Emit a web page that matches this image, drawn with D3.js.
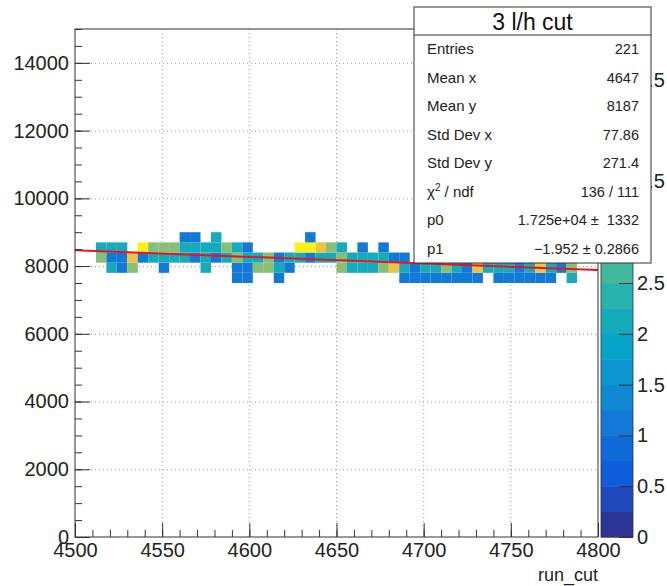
<!DOCTYPE html>
<html>
<head>
<meta charset="utf-8">
<script src="https://cdn.jsdelivr.net/npm/d3@7"></script>
<style>
body { margin: 0; background: #fff; }
text { font-family: "Liberation Sans", Arial, sans-serif; }
</style>
</head>
<body>
<div class="container"></div>
<script>
// histogram binning (TH2: 50 x 50 bins)
var xMin = 4500, xMax = 4800, nBinsX = 50;
var yMin = 0, yMax = 15000, nBinsY = 50;
var zMin = 0, zMax = 5, nContours = 20;

// bin contents per y row, one value per x bin (0..49)
var row7500 = [0,0,0,0,0,0,0,0,0,0, 0,0,0,0,0,1,1,0,0,1, 0,0,0,0,0,0,0,0,0,0, 0,1,1,1,1,1,1,1,1,0, 1,1,1,1,1,1,0,2,0,0];
var row7800 = [0,0,0,2,1,3,0,0,1,0, 0,0,2,0,0,1,1,3,3,2, 1,0,0,0,0,3,2,2,2,3, 4,2,1,2,2,3,2,1,4,2, 2,2,1,2,4,2,1,3,0,0];
var row8100 = [0,0,3,1,1,4,1,2,2,2, 2,1,2,1,2,3,2,2,3,1, 2,2,1,2,2,3,2,2,2,2, 1,1,0,2,3,4,2,2,1,2, 1,2,2,1,2,1,2,1,0,0];
var row8400 = [0,0,2,2,2,0,5,3,3,3, 2,2,2,2,3,2,1,0,0,0, 0,5,5,4,3,2,0,1,0,1, 0,0,0,0,2,0,1,0,0,1, 0,0,1,0,0,0,0,0,0,0];
var row8700 = [0,0,0,0,0,0,0,0,0,0, 1,1,0,2,0,0,0,0,0,0, 0,0,1,0,0,0,0,0,0,0, 0,0,0,0,0,0,0,0,0,0, 0,0,0,0,0,0,0,0,0,0];
var rowStarts = [7500, 7800, 8100, 8400, 8700];
var rowCounts = [row7500, row7800, row8100, row8400, row8700];

// pol1 fit
var fitP0 = 1.725e4, fitP1 = -1.952;

// axis ticks
var xMajor = [4500, 4550, 4600, 4650, 4700, 4750, 4800];
var yMajor = [0, 2000, 4000, 6000, 8000, 10000, 12000, 14000];
var zMajor = [0, 0.5, 1, 1.5, 2, 2.5, 3, 3.5, 4, 4.5, 5];

// stats box
var statTitle = "3 l/h cut";
var statLabels = ["Entries", "Mean x", "Mean y", "Std Dev x", "Std Dev y", "chi2", "p0", "p1"];
var statValues = ["221", "4647", "8187", "77.86", "271.4", "136 / 111", "1.725e+04 \u00b1  1332", "\u22121.952 \u00b1 0.2866"];

// kBird palette stops
var birdStops = [0, 0.125, 0.25, 0.375, 0.5, 0.625, 0.75, 0.875, 1];
var birdR = [0.2082, 0.0592, 0.0780, 0.0232, 0.1802, 0.5301, 0.8186, 0.9956, 0.9764];
var birdG = [0.1664, 0.3599, 0.5041, 0.6419, 0.7178, 0.7492, 0.7328, 0.7862, 0.9832];
var birdB = [0.5293, 0.8684, 0.8385, 0.7914, 0.6425, 0.4662, 0.3499, 0.1968, 0.0539];

var W = 667, H = 586;
var fx0 = 75, fx1 = 598, fy0 = 29, fy1 = 537; // frame
var px0 = 601, px1 = 633; // palette

var x = d3.scaleLinear().domain([xMin, xMax]).range([fx0, fx1]);
var y = d3.scaleLinear().domain([yMin, yMax]).range([fy1, fy0]);
var z = d3.scaleLinear().domain([zMin, zMax]).range([fy1, fy0]);

var birdScale = d3.scaleLinear().domain(birdStops)
	.range(birdStops.map(function(s, i) { return d3.rgb(birdR[i]*255, birdG[i]*255, birdB[i]*255); }));

function levelColor(v) {
	// discrete contour level, like COLZ
	var k = Math.floor((v - zMin) / (zMax - zMin) * nContours);
	k = Math.max(0, Math.min(nContours - 1, k));
	return birdScale((k + 0.5) / nContours);
}

var svg = d3.select(".container").insert("svg")
	.attr("width", W)
	.attr("height", H);

// grid
var grid = svg.append("g").attr("stroke", "#9a9a9a").attr("stroke-width", 1).attr("stroke-dasharray", "1,3");
grid.selectAll("line.gx").data(xMajor.slice(1, -1)).enter().append("line")
	.attr("x1", function(d) { return x(d); }).attr("x2", function(d) { return x(d); })
	.attr("y1", fy0).attr("y2", fy1);
grid.selectAll("line.gy").data(yMajor.slice(1)).enter().append("line")
	.attr("x1", fx0).attr("x2", fx1)
	.attr("y1", function(d) { return y(d) + 0.5; }).attr("y2", function(d) { return y(d) + 0.5; });

// cells
var bx = (xMax - xMin) / nBinsX, by = (yMax - yMin) / nBinsY;
var cells = [];
rowCounts.forEach(function(row, r) {
	row.forEach(function(v, i) {
		if (v > 0) cells.push({x: xMin + i*bx, y: rowStarts[r], v: v});
	});
});
svg.append("g").selectAll("rect").data(cells).enter().append("rect")
	.attr("x", function(d) { return x(d.x); })
	.attr("y", function(d) { return y(d.y + by); })
	.attr("width", function(d) { return x(d.x + bx) - x(d.x); })
	.attr("height", function(d) { return y(d.y) - y(d.y + by); })
	.style("fill", function(d) { return levelColor(d.v); });

// fit line
svg.append("line")
	.attr("x1", x(xMin)).attr("y1", y(fitP0 + fitP1*xMin))
	.attr("x2", x(xMax)).attr("y2", y(fitP0 + fitP1*xMax))
	.style("stroke", "#e8141e")
	.style("stroke-width", 2);

// axes, ticks inside frame
var xMinor = d3.range(xMin, xMax + 0.1, 10);
var yMinor = d3.range(yMin, yMax + 0.1, 500);

svg.append("g").attr("transform", "translate(0," + fy1 + ")")
	.call(d3.axisBottom(x).tickValues(xMinor).tickSize(-7).tickFormat(""));
svg.append("g").attr("class", "ax").attr("transform", "translate(0," + fy1 + ")")
	.call(d3.axisBottom(x).tickValues(xMajor).tickSize(-14).tickPadding(6).tickFormat(d3.format("d")));
svg.append("g").attr("transform", "translate(" + fx0 + ",0)")
	.call(d3.axisLeft(y).tickValues(yMinor).tickSize(-7).tickFormat(""));
svg.append("g").attr("class", "ax").attr("transform", "translate(" + fx0 + ",0)")
	.call(d3.axisLeft(y).tickValues(yMajor).tickSize(-15).tickPadding(6).tickFormat(d3.format("d")));

svg.selectAll(".domain").remove();
svg.selectAll(".tick line").style("stroke", "#333");
svg.selectAll(".ax text").style("font-size", "20px").style("fill", "#222");

// frame
svg.append("rect")
	.attr("x", fx0).attr("y", fy0)
	.attr("width", fx1 - fx0).attr("height", fy1 - fy0)
	.style("fill", "none").style("stroke", "#333");

svg.append("text")
	.attr("x", fx1).attr("y", 581)
	.attr("text-anchor", "end")
	.style("font-size", "18px").style("fill", "#222")
	.text("run_cut");

// palette
var bands = d3.range(nContours);
var dz = (zMax - zMin) / nContours;
svg.append("g").selectAll("rect").data(bands).enter().append("rect")
	.attr("x", px0)
	.attr("y", function(k) { return z(zMin + (k+1)*dz); })
	.attr("width", px1 - px0)
	.attr("height", function(k) { return z(zMin + k*dz) - z(zMin + (k+1)*dz) + 0.5; })
	.style("fill", function(k) { return birdScale((k + 0.5) / nContours); });
svg.append("rect")
	.attr("x", px0).attr("y", fy0)
	.attr("width", px1 - px0).attr("height", fy1 - fy0)
	.style("fill", "none").style("stroke", "#333").style("stroke-width", 0.8);

svg.append("g").attr("class", "ax").attr("transform", "translate(" + px1 + ",0)")
	.call(d3.axisRight(z).tickValues(zMajor).tickSize(-14).tickPadding(4).tickFormat(d3.format("~g")));
svg.selectAll(".domain").remove();
svg.selectAll(".tick line").style("stroke", "#333");
svg.selectAll(".ax text").style("font-size", "20px").style("fill", "#222");

// stats box
var sx = 414, sy = 7, sw = 237, sh = 256, titleH = 28;
var stats = svg.append("g");
stats.append("rect")
	.attr("x", sx).attr("y", sy).attr("width", sw).attr("height", sh)
	.style("fill", "#fff").style("stroke", "#333");
stats.append("line")
	.attr("x1", sx).attr("x2", sx + sw)
	.attr("y1", sy + titleH).attr("y2", sy + titleH)
	.style("stroke", "#333");
stats.append("text")
	.attr("x", sx + sw/2).attr("y", sy + 23)
	.attr("text-anchor", "middle")
	.style("font-size", "23px").style("fill", "#111")
	.text(statTitle);

var rowH = (sh - titleH) / statLabels.length;
statLabels.forEach(function(lab, i) {
	var ty = sy + titleH + rowH*(i + 0.5) + 5;
	var t = stats.append("text")
		.attr("x", sx + 13).attr("y", ty)
		.style("font-size", "15px").style("fill", "#222");
	if (lab == "chi2") {
		t.append("tspan").text("\u03c7");
		t.append("tspan").attr("dy", -6).style("font-size", "10px").text("2");
		t.append("tspan").attr("dy", 6).text(" / ndf");
	} else {
		t.text(lab);
	}
	stats.append("text")
		.attr("x", sx + sw - 12).attr("y", ty)
		.attr("text-anchor", "end")
		.style("font-size", "14.5px").style("fill", "#222")
		.style("white-space", "pre")
		.text(statValues[i]);
});
</script>
</body>
</html>
